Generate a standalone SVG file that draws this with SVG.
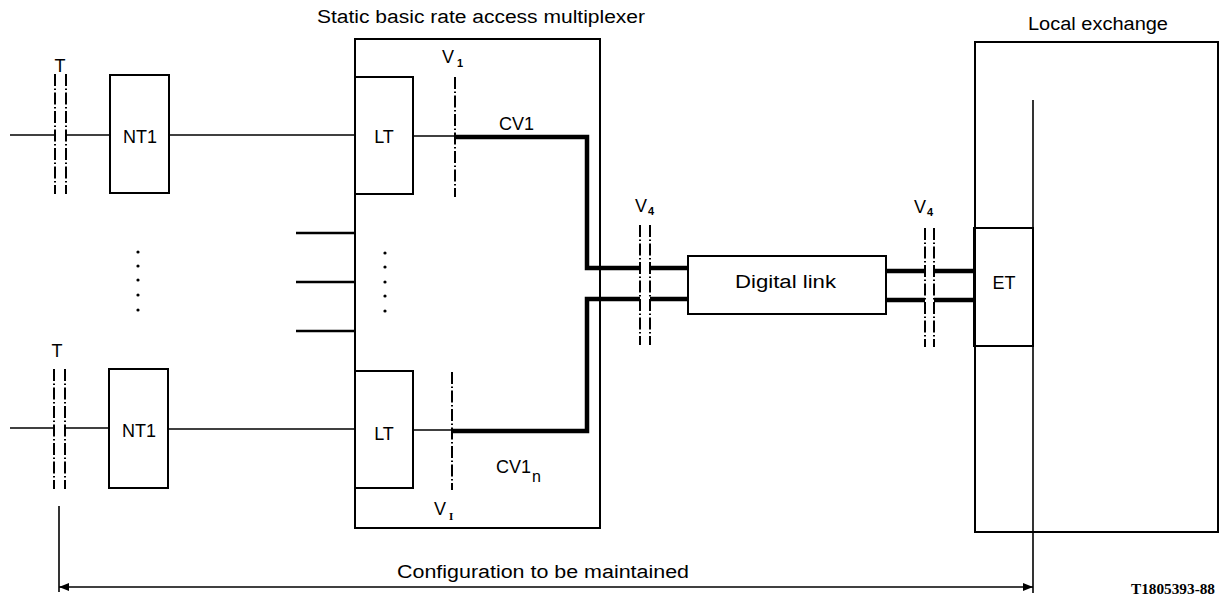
<svg xmlns="http://www.w3.org/2000/svg" width="1221" height="601" viewBox="0 0 1221 601">
<style>
.box{fill:none;stroke:#000;stroke-width:2}
.thin{fill:none;stroke:#000;stroke-width:1.6}
.mid{fill:none;stroke:#000;stroke-width:2.6}
.thick{fill:none;stroke:#000;stroke-width:4.5}
.dd{fill:none;stroke:#000;stroke-width:2;stroke-dasharray:12 2.5 1.5 2.5}
.t{font-family:"Liberation Sans",Arial,sans-serif;font-size:18px;fill:#000}
.sub{font-family:"Liberation Sans",Arial,sans-serif;font-size:11px;font-weight:bold;fill:#000}
.ref{font-family:"Liberation Serif","Times New Roman",serif;font-size:14px;font-weight:bold;fill:#000}
.dot{fill:#000}
</style>
<defs>
<marker id="ah" viewBox="0 0 10 8" refX="10" refY="4" markerWidth="10" markerHeight="8" markerUnits="userSpaceOnUse" orient="auto-start-reverse">
<path d="M0,0 L10,4 L0,8 Z" fill="#000"/>
</marker>
</defs>
<rect width="1221" height="601" fill="#fff"/>

<!-- Multiplexer -->
<g id="mux">
<rect class="box" x="355" y="39" width="245" height="489"/>
<text class="t" x="317" y="23" textLength="328" lengthAdjust="spacingAndGlyphs">Static basic rate access multiplexer</text>
<circle class="dot" cx="385" cy="253" r="1.6"/>
<circle class="dot" cx="385" cy="267" r="1.6"/>
<circle class="dot" cx="385" cy="282" r="1.6"/>
<circle class="dot" cx="385" cy="296" r="1.6"/>
<circle class="dot" cx="385" cy="311" r="1.6"/>
</g>

<g id="lt-top">
<rect class="box" x="355" y="77" width="58" height="117"/>
<text class="t" x="384" y="143" text-anchor="middle">LT</text>
</g>
<g id="lt-bottom">
<rect class="box" x="355" y="371" width="58" height="117"/>
<text class="t" x="384" y="440" text-anchor="middle">LT</text>
</g>

<g id="nt1-top">
<rect class="box" x="110" y="75" width="59" height="118"/>
<text class="t" x="140" y="143" text-anchor="middle">NT1</text>
</g>
<g id="nt1-bottom">
<rect class="box" x="109" y="369" width="59" height="119"/>
<text class="t" x="139" y="437" text-anchor="middle">NT1</text>
</g>

<g id="dots-left">
<circle class="dot" cx="138" cy="252" r="1.6"/>
<circle class="dot" cx="138" cy="266" r="1.6"/>
<circle class="dot" cx="138" cy="280" r="1.6"/>
<circle class="dot" cx="138" cy="295" r="1.6"/>
<circle class="dot" cx="138" cy="310" r="1.6"/>
</g>

<g id="digital-link">
<rect class="box" x="688" y="256" width="198" height="58"/>
<text class="t" x="735" y="288" textLength="101" lengthAdjust="spacingAndGlyphs">Digital link</text>
</g>

<g id="local-exchange">
<rect class="box" x="975" y="42" width="243" height="490"/>
<text class="t" x="1028" y="30" textLength="140" lengthAdjust="spacingAndGlyphs">Local exchange</text>
</g>

<g id="et">
<rect class="box" x="974" y="228" width="59" height="118"/>
<text class="t" x="1004" y="289" text-anchor="middle">ET</text>
</g>

<!-- Reference points -->
<g id="ref-t-top">
<text class="t" x="60" y="72" text-anchor="middle">T</text>
<line class="dd" x1="55" y1="74" x2="55" y2="194"/>
<line class="dd" x1="66" y1="74" x2="66" y2="194"/>
</g>
<g id="ref-t-bottom">
<text class="t" x="57" y="357" text-anchor="middle">T</text>
<line class="dd" x1="54" y1="369" x2="54" y2="489"/>
<line class="dd" x1="65" y1="369" x2="65" y2="489"/>
</g>
<g id="ref-v1-top">
<text class="t" x="442" y="63">V</text><text class="sub" x="457" y="67">1</text>
<line class="dd" x1="455" y1="77" x2="455" y2="197"/>
</g>
<g id="ref-v1-bottom">
<line class="dd" x1="452" y1="372" x2="452" y2="490"/>
<text class="t" x="434" y="515">V</text><text class="sub" x="449" y="520" style="font-family:'Liberation Serif',serif">I</text>
</g>
<g id="ref-v4-left">
<text class="t" x="635" y="212">V</text><text class="sub" x="648" y="215">4</text>
<line class="dd" x1="640" y1="225" x2="640" y2="345"/>
<line class="dd" x1="650" y1="225" x2="650" y2="345"/>
</g>
<g id="ref-v4-right">
<text class="t" x="914" y="213">V</text><text class="sub" x="927" y="216">4</text>
<line class="dd" x1="925" y1="228" x2="925" y2="347"/>
<line class="dd" x1="934" y1="228" x2="934" y2="347"/>
</g>

<!-- Connectors -->
<g id="connectors">
<line class="thin" x1="10" y1="135" x2="55" y2="135"/>
<line class="thin" x1="66" y1="135" x2="110" y2="135"/>
<line class="thin" x1="169" y1="135" x2="355" y2="135"/>
<line class="thin" x1="413" y1="136" x2="455" y2="136"/>
<polyline class="thick" points="455,137 587,137 587,268 640,268"/>
<line class="thick" x1="650" y1="268" x2="688" y2="268"/>

<line class="thin" x1="10" y1="428" x2="54" y2="428"/>
<line class="thin" x1="65" y1="428" x2="109" y2="428"/>
<line class="thin" x1="168" y1="429" x2="355" y2="429"/>
<line class="thin" x1="413" y1="430" x2="452" y2="430"/>
<polyline class="thick" points="452,431 587,431 587,299 640,299"/>
<line class="thick" x1="650" y1="299" x2="688" y2="299"/>

<line class="mid" x1="296" y1="233" x2="355" y2="233"/>
<line class="mid" x1="296" y1="282" x2="355" y2="282"/>
<line class="mid" x1="296" y1="331" x2="355" y2="331"/>

<line class="thick" x1="886" y1="271" x2="925" y2="271"/>
<line class="thick" x1="934" y1="271" x2="974" y2="271"/>
<line class="thick" x1="886" y1="300" x2="925" y2="300"/>
<line class="thick" x1="934" y1="300" x2="974" y2="300"/>

<line class="thin" x1="1033" y1="100" x2="1033" y2="228"/>
<line class="thin" x1="1033" y1="346" x2="1033" y2="593"/>
<line class="thin" x1="59" y1="506" x2="59" y2="592"/>
<line class="thin" x1="59" y1="587" x2="1033" y2="587" marker-start="url(#ah)" marker-end="url(#ah)"/>
</g>

<text class="t" x="397" y="578" textLength="292" lengthAdjust="spacingAndGlyphs">Configuration to be maintained</text>
<text class="t" x="496" y="473">CV1</text><text class="t" x="532" y="482" style="font-size:16px">n</text>
<text class="t" x="499" y="130">CV1</text>
<text class="ref" x="1131" y="594" textLength="84" lengthAdjust="spacingAndGlyphs">T1805393-88</text>
</svg>
